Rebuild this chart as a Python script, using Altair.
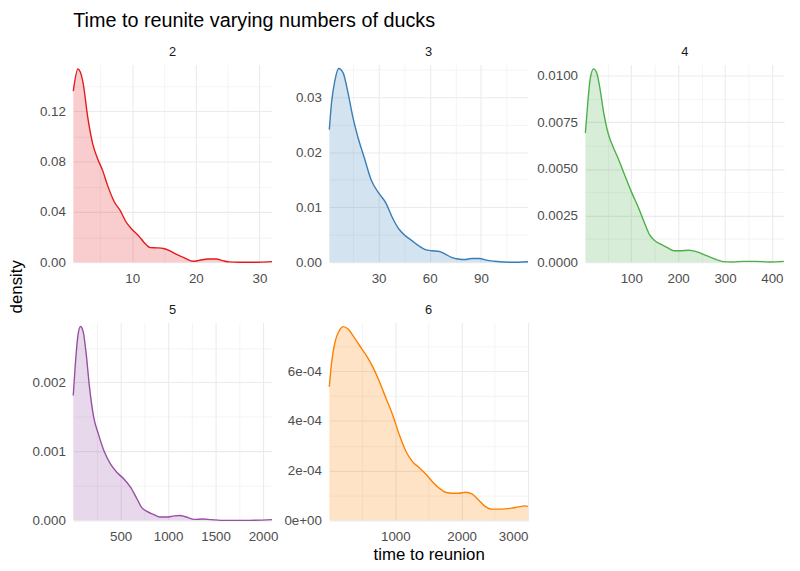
import pandas as pd
import altair as alt

FONT = "Liberation Sans"

# facet labels (number of ducks) and their Set1 colours
groups = ["2", "3", "4", "5", "6"]
colors = ["#E41A1C", "#377EB8", "#4DAF4A", "#984EA3", "#FF7F00"]

# density curves: time to reunion -> density
t2 = [0.75, 1.47, 2.25, 3.02, 3.8, 4.57, 5.35, 6.12, 7.16, 8.19, 8.97, 10, 11.03, 11.8, 12.84,
      13.9, 14.9, 15.94, 16.98, 18.27, 19.56, 20.6, 21.9, 23.2, 24.2, 25.2, 26.8, 29.9, 31.96]
d2 = [0.136, 0.1535, 0.1435, 0.115, 0.094, 0.0822, 0.073, 0.0613, 0.0483, 0.0405, 0.0326, 0.026,
      0.0209, 0.0162, 0.0117, 0.0115, 0.011, 0.0091, 0.0063, 0.0034, 0.0008, 0.0016, 0.0026,
      0.0026, 0.0013, 0.0003, 0.0, 0.0001, 0.0005]

t3 = [1.1, 2.4, 4.3, 6.6, 9.2, 12.05, 14.95, 17.8, 21.7, 25.6, 30, 34.2, 38.1, 42, 45.8, 49.7,
      53.5, 57.4, 61.3, 65.1, 69, 72.8, 76.7, 80.5, 84.4, 89.2, 93.1, 97.9, 107.5, 117.6]
d3 = [0.0241, 0.029, 0.0329, 0.0352, 0.0344, 0.0308, 0.0263, 0.0228, 0.0189, 0.015, 0.0126,
      0.0108, 0.0081, 0.006, 0.0048, 0.0039, 0.003, 0.0023, 0.0021, 0.002, 0.0015, 0.0009,
      0.0006, 0.0005, 0.0007, 0.0007, 0.0004, 0.0002, 0.0, 0.0001]

t4 = [2, 6.9, 12.5, 19.5, 26.5, 33.5, 40.5, 51, 61.5, 72, 86, 100, 114, 128, 138.5, 149, 163,
      177, 191, 205, 222.5, 240, 257.5, 275, 296, 317, 338, 366, 394, 425.5]
d4 = [0.00693, 0.00847, 0.00988, 0.01037, 0.01014, 0.00926, 0.00811, 0.00688, 0.00617, 0.00556,
      0.00467, 0.00379, 0.003, 0.00212, 0.0015, 0.00118, 0.00097, 0.00079, 0.00062, 0.00062,
      0.00065, 0.00056, 0.00039, 0.00021, 0.00004, 0.00002, 0.00005, 0.00005, 0.00002, 0.00005]

t5 = [1, 21.8, 49.5, 77, 104.9, 136, 170.6, 215.6, 264, 326.5, 395.7, 465, 534.7, 604, 673, 725,
      777, 846, 915, 984, 1053, 1123, 1192, 1279, 1365, 1452, 1556, 1850, 2094]
d5 = [0.00181, 0.00224, 0.00267, 0.00281, 0.00274, 0.00243, 0.00195, 0.0015, 0.00126, 0.001,
      0.00081, 0.00069, 0.0006, 0.00048, 0.00031, 0.00018, 0.00013, 0.000086, 0.000048,
      0.000048, 0.000062, 0.000071, 0.000048, 0.000014, 0.000019, 0.00001, 0.0, 0.0, 0.00001]

t6 = [5, 40, 90, 154, 214, 289, 364, 463, 562, 662, 761, 861, 960, 1060, 1159, 1259, 1358, 1458,
      1557, 1657, 1756, 1856, 1955, 2055, 2154, 2254, 2353, 2453, 2552, 2652, 2751, 2851, 2950, 3000]
d6 = [5.37e-4, 6.36e-4, 7.16e-4, 7.62e-4, 7.79e-4, 7.69e-4, 7.42e-4, 7.02e-4, 6.63e-4, 6.16e-4,
      5.57e-4, 4.9e-4, 4.24e-4, 3.44e-4, 2.78e-4, 2.36e-4, 2.12e-4, 1.86e-4, 1.56e-4, 1.3e-4,
      1.13e-4, 1.09e-4, 1.09e-4, 1.13e-4, 1.06e-4, 8.2e-5, 5.6e-5, 4.5e-5, 4.5e-5, 4.6e-5,
      4.9e-5, 5.4e-5, 5.8e-5, 5.6e-5]

# axis ranges and breaks per panel (free scales)
x_ranges = [[0.74, 31.96], [1.1, 117.6], [2, 426], [1, 2094], [5, 3000]]
y_ranges = [[0, 0.157], [0, 0.0359], [0, 0.0106], [0, 0.002866], [0, 0.000795]]
x_major = [[10, 20, 30], [30, 60, 90], [100, 200, 300, 400], [500, 1000, 1500, 2000], [1000, 2000, 3000]]
x_minor = [[5, 15, 25], [15, 45, 75, 105], [50, 150, 250, 350], [250, 750, 1250, 1750], [500, 1500, 2500]]
y_major = [[0, 0.04, 0.08, 0.12], [0, 0.01, 0.02, 0.03], [0, 0.0025, 0.005, 0.0075, 0.01],
           [0, 0.001, 0.002], [0, 0.0002, 0.0004, 0.0006]]
y_minor = [[0.02, 0.06, 0.1, 0.14], [0.005, 0.015, 0.025, 0.035], [0.00125, 0.00375, 0.00625, 0.00875],
           [0.0005, 0.0015, 0.0025], [0.0001, 0.0003, 0.0005, 0.0007]]
y_formats = [".2f", ".2f", ".4f", ".3f", None]

times = [t2, t3, t4, t5, t6]
dens = [d2, d3, d4, d5, d6]


def make_axis(major, minor, fmt=None, label_expr=None, title=None, pad=8):
    test = f"indexof({major}, datum.value) >= 0"
    if label_expr is None:
        label_expr = "datum.label"
    kw = dict(
        values=sorted(major + minor),
        labelExpr=f"{test} ? {label_expr} : ''",
        gridWidth={"condition": {"test": test, "value": 1.1}, "value": 0.55},
        labelPadding=pad,
        title=title,
    )
    if fmt:
        kw["format"] = fmt
    if title:
        kw.update(titleFontSize=17, titleFontWeight="normal", titleColor="black",
                  titleFont=FONT, titlePadding=4)
    return alt.Axis(**kw)


def panel(i, xtitle=None):
    df = pd.DataFrame({"time": times[i], "density": dens[i]})
    if i == 4:
        yexpr = "(datum.value == 0 ? '0e+00' : format(datum.value * 10000, '.0f') + 'e-04')"
        yaxis = make_axis(y_major[i], y_minor[i], label_expr=yexpr)
    else:
        yaxis = make_axis(y_major[i], y_minor[i], fmt=y_formats[i])
    x = alt.X("time:Q", scale=alt.Scale(domain=x_ranges[i], nice=False, zero=False),
              axis=make_axis(x_major[i], x_minor[i], fmt="d", title=xtitle, pad=9))
    y = alt.Y("density:Q", scale=alt.Scale(domain=y_ranges[i], nice=False), axis=yaxis)
    base = alt.Chart(df).encode(x=x, y=y)
    area = base.mark_area(color=colors[i], opacity=0.22, interpolate="monotone")
    line = base.mark_line(color=colors[i], strokeWidth=1.4, interpolate="monotone")
    return (area + line).properties(
        width=201, height=200,
        title=alt.TitleParams(groups[i], fontSize=13, font=FONT, color="#1A1A1A",
                              fontWeight="normal", anchor="middle", offset=6),
    )


row1 = alt.hconcat(panel(0), panel(1), panel(2), spacing=58, bounds="flush").properties(
    title=alt.TitleParams("Time to reunite varying numbers of ducks", fontSize=20, font=FONT,
                          color="black", fontWeight="normal", anchor="start", frame="group",
                          offset=13, dy=-2)
)
row2 = alt.hconcat(panel(3), panel(4, xtitle="time to reunion"), spacing=58, bounds="flush")

chart = alt.vconcat(row1, row2, spacing=19).properties(
    title=alt.TitleParams("density", orient="left", anchor="middle", fontSize=17, font=FONT,
                          color="black", fontWeight="normal", offset=6),
    padding={"left": 0, "top": 0, "right": 5, "bottom": 5},
).configure_view(strokeWidth=0).configure_axis(
    labelFont=FONT, labelFontSize=13.5, labelColor="#4D4D4D",
    domain=False, ticks=False, gridColor="#EBEBEB",
)

chart.save("out.html", embed_options={"renderer": "svg", "actions": False})
